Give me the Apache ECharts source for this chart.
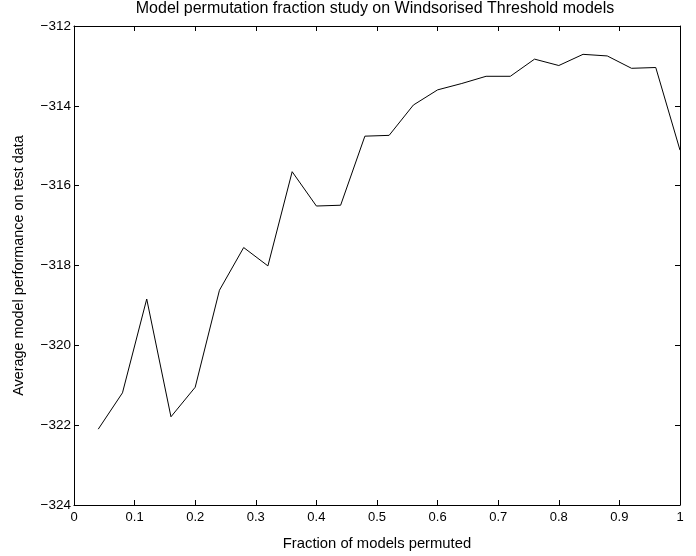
<!DOCTYPE html>
<html>
<head>
<meta charset="utf-8">
<script src="https://cdn.jsdelivr.net/npm/echarts@6/dist/echarts.min.js"></script>
<style>
  html, body { margin: 0; padding: 0; background: #fff; }
  #chart { width: 696px; height: 556px; }
</style>
</head>
<body>
<div id="chart"></div>
<script>
// fraction of models permuted
const fractions = [0.04, 0.08, 0.12, 0.16, 0.20, 0.24, 0.28, 0.32, 0.36, 0.40,
  0.44, 0.48, 0.52, 0.56, 0.60, 0.64, 0.68, 0.72, 0.76, 0.80,
  0.84, 0.88, 0.92, 0.96, 1.00]
// average model performance on test data
const performance = [-322.1, -321.19, -318.84, -321.79, -321.05, -318.62, -317.55, -318.01, -315.65, -316.51,
  -316.49, -314.76, -314.74, -313.98, -313.6, -313.44, -313.26, -313.26, -312.83, -312.99,
  -312.71, -312.75, -313.06, -313.04, -315.11]

const font = 'Liberation Sans, Arial, Helvetica, sans-serif'
const fmtY = v => (v < 0 ? '\u2212' + Math.abs(v) : String(v))
const fmtX = v => String(Math.round(v * 10) / 10)

const chart = echarts.init(document.getElementById('chart'))

// matlab-like box: ticks inside on all four sides
const boxAxis = {
  axisLine: { show: true, onZero: false, lineStyle: { color: '#000', width: 1 } },
  axisTick: { show: true, inside: true, length: 5, lineStyle: { color: '#000' } },
  splitLine: { show: false }
}

const option = {
  animation: false,
  backgroundColor: '#fff',
  title: {
    text: 'Model permutation fraction study on Windsorised Threshold models',
    left: 375,
    textAlign: 'center',
    top: 1,
    padding: 0,
    textStyle: { fontFamily: font, fontSize: 16, fontWeight: 'normal', color: '#000' }
  },
  grid: { left: 74, right: 16, top: 26, bottom: 51 },
  xAxis: [
    {
      type: 'value', min: 0, max: 1, interval: 0.1, position: 'bottom',
      ...boxAxis,
      axisLabel: { color: '#000', fontFamily: font, fontSize: 13, margin: 6, formatter: fmtX },
      name: 'Fraction of models permuted',
      nameLocation: 'middle', nameGap: 31,
      nameTextStyle: { color: '#000', fontFamily: font, fontSize: 14.8 }
    },
    {
      type: 'value', min: 0, max: 1, interval: 0.1, position: 'top',
      ...boxAxis,
      axisLabel: { show: false }
    }
  ],
  yAxis: [
    {
      type: 'value', min: -324, max: -312, interval: 2, position: 'left',
      ...boxAxis,
      axisLabel: { color: '#000', fontFamily: font, fontSize: 13.5, margin: 3, formatter: fmtY },
      name: 'Average model performance on test data',
      nameLocation: 'middle', nameGap: 48,
      nameTextStyle: { color: '#000', fontFamily: font, fontSize: 14.4 }
    },
    {
      type: 'value', min: -324, max: -312, interval: 2, position: 'right',
      ...boxAxis,
      axisLabel: { show: false }
    }
  ],
  series: [
    {
      type: 'line',
      data: fractions.map((f, i) => [f, performance[i]]),
      showSymbol: false,
      lineStyle: { color: '#000', width: 1 }
    }
  ]
}

chart.setOption(option)
</script>
</body>
</html>
